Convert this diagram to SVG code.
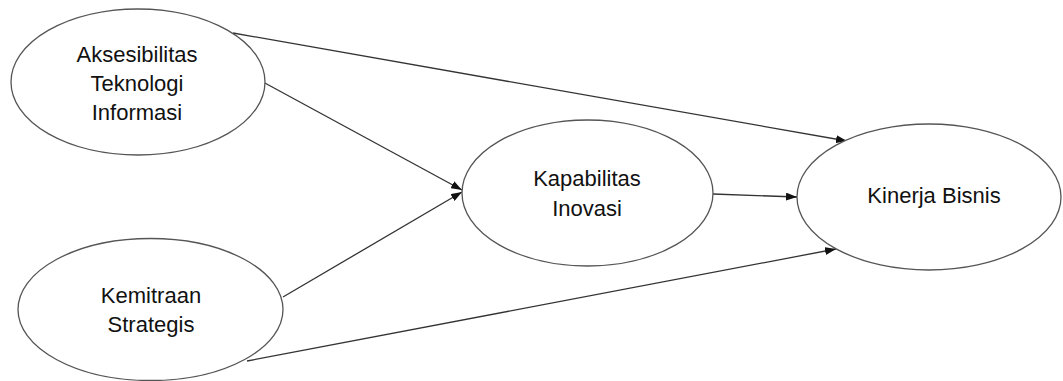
<svg xmlns="http://www.w3.org/2000/svg" width="1063" height="381" viewBox="0 0 1063 381">
  <style>
    .node ellipse { fill: #ffffff; stroke: #555555; stroke-width: 1.3; }
    .node text { font-family: "Liberation Sans", Arial, sans-serif; font-size: 22px; fill: #111111; text-anchor: middle; }
    .edges line { stroke: #333333; stroke-width: 1.3; marker-end: url(#arrow); }
  </style>
  <defs>
    <marker id="arrow" markerUnits="userSpaceOnUse" markerWidth="11" markerHeight="8" refX="11" refY="4" orient="auto">
      <path d="M0,0 L11,4 L0,8 z" fill="#111111"/>
    </marker>
  </defs>
  <rect width="1063" height="381" fill="#ffffff"/>
  <g class="edges" id="connectors">
    <line x1="233" y1="33" x2="847" y2="141"/>
    <line x1="263" y1="82" x2="462" y2="190"/>
    <line x1="283" y1="297" x2="462" y2="192"/>
    <line x1="713" y1="194" x2="797" y2="197"/>
    <line x1="247" y1="361" x2="836" y2="249"/>
  </g>
  <g class="node" id="aksesibilitas">
    <ellipse cx="138" cy="82" rx="127" ry="73"/>
    <text x="137" y="62">Aksesibilitas</text>
    <text x="137" y="91">Teknologi</text>
    <text x="137" y="120">Informasi</text>
  </g>
  <g class="node" id="kemitraan">
    <ellipse cx="150.5" cy="309.5" rx="132.5" ry="71"/>
    <text x="151" y="303">Kemitraan</text>
    <text x="151" y="332">Strategis</text>
  </g>
  <g class="node" id="kapabilitas">
    <ellipse cx="587.5" cy="193" rx="125.5" ry="73"/>
    <text x="587" y="186">Kapabilitas</text>
    <text x="587" y="216">Inovasi</text>
  </g>
  <g class="node" id="kinerja">
    <ellipse cx="929" cy="197" rx="132" ry="73"/>
    <text x="934" y="203">Kinerja Bisnis</text>
  </g>
</svg>
